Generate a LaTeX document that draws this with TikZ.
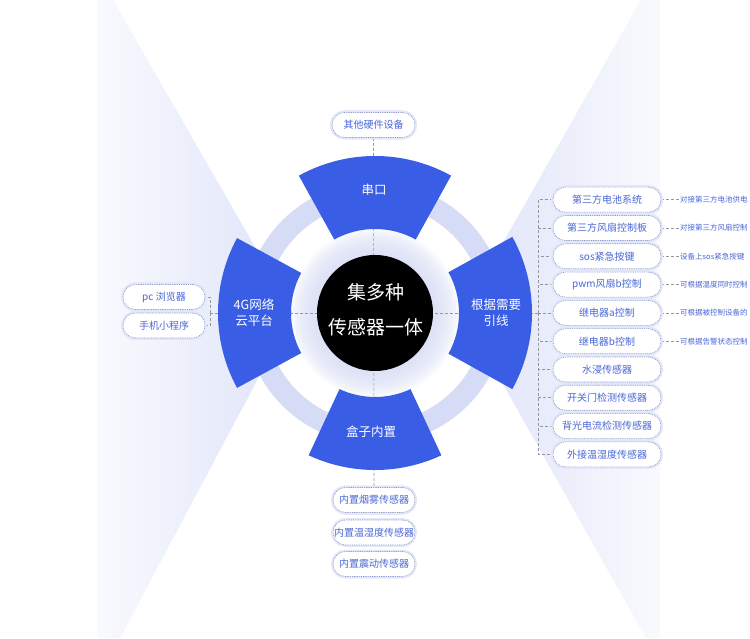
\documentclass[tikz,border=0pt]{standalone}
\usepackage{fontspec}
\setmainfont{Noto Sans CJK SC}
\usetikzlibrary{calc}
\definecolor{secblue}{RGB}{58,93,230}
\definecolor{ringc}{RGB}{214,220,245}
\definecolor{bgl}{RGB}{222,227,248}
\definecolor{bgsoft}{RGB}{249,250,254}
\definecolor{boxtxt}{RGB}{74,103,214}
\definecolor{boxline}{RGB}{140,150,200}
\definecolor{glowc}{RGB}{226,231,250}
\definecolor{haloc}{RGB}{215,221,246}
\definecolor{dashc}{RGB}{150,150,158}
\begin{document}
\begin{tikzpicture}[x=1pt,y=1pt,
  pill/.style={draw=boxline, line width=0.6pt, dash pattern=on 0.9pt off 0.9pt,
    fill=white, rounded corners=12.5pt, text=boxtxt,
    font=\fontsize{10}{12}\selectfont, minimum height=25pt, inner sep=0pt,
    preaction={draw=glowc, line width=4pt, solid}},
  desc/.style={anchor=west, text=boxtxt, font=\fontsize{7.5}{9}\selectfont, inner sep=1pt},
  conn/.style={draw=dashc, line width=0.6pt, dash pattern=on 3pt off 2pt},
  sectxt/.style={text=white, align=center, font=\fontsize{12.5}{16}\selectfont, inner sep=0pt}
]
\useasboundingbox (0,0) rectangle (750,638);
\fill[white] (0,0) rectangle (750,638);
% background wedges
\shade[left color=bgsoft, right color=bgl] (97,0) -- (120,0) -- (293,325) -- (113,638) -- (97,638) -- cycle;
\shade[left color=bgl, right color=bgsoft] (641,638) -- (463,325) -- (646,0) -- (660,0) -- (660,638) -- cycle;
% ring
\fill[ringc, even odd rule] (375,325) circle (131) (375,325) circle (110);
\coordinate (c) at (375,325);
% halo
\foreach \r in {60,63,...,84} \fill[haloc, opacity=0.16] (c) circle (\r);
% boxes (positions)
\node[pill, minimum width=83pt] (tb) at (373.5,513) {其他硬件设备};
\node[pill, minimum width=82pt] (l1) at (164,341) {pc 浏览器};
\node[pill, minimum width=82pt] (l2) at (164,312.5) {手机小程序};
\node[pill, minimum width=82pt] (b1) at (374,138) {内置烟雾传感器};
\node[pill, minimum width=82pt] (b2) at (374,105.5) {内置温湿度传感器};
\node[pill, minimum width=82pt] (b3) at (374,74) {内置震动传感器};
\foreach \t [count=\i] in {第三方电池系统, 第三方风扇控制板, sos紧急按键, pwm风扇b控制, 继电器a控制, 继电器b控制, 水浸传感器, 开关门检测传感器, 背光电流检测传感器, 外接温湿度传感器}
  \node[pill, minimum width=108pt] (r\i) at (607,{438.3-28.3*(\i-1)}) {\t};
\foreach \t [count=\i] in {对接第三方电池供电, 对接第三方风扇控制, 设备上sos紧急按键, 可根据温度同时控制, 可根据被控制设备的, 可根据告警状态控制}
  \node[desc] (d\i) at (679,{438.3-28.3*(\i-1)}) {\t};
% connectors
\coordinate (lb) at (210,325);
\coordinate (rb) at (538,325);
\draw[conn] (tb.south) -- (b1.north);
\draw[conn] (lb) -- (rb);
\draw[conn] (lb) |- (l1.east);
\draw[conn] (lb) |- (l2.east);
\foreach \i in {1,...,10} \draw[conn] (rb) |- (r\i.west);
\foreach \i in {1,...,6} \draw[conn] (r\i.east) -- (d\i.west);
% redraw boxes on top of connectors
\node[pill, minimum width=83pt] at (tb) {其他硬件设备};
\node[pill, minimum width=82pt] at (l1) {pc 浏览器};
\node[pill, minimum width=82pt] at (l2) {手机小程序};
\node[pill, minimum width=82pt] at (b1) {内置烟雾传感器};
\foreach \t [count=\i] in {第三方电池系统, 第三方风扇控制板, sos紧急按键, pwm风扇b控制, 继电器a控制, 继电器b控制, 水浸传感器, 开关门检测传感器, 背光电流检测传感器, 外接温湿度传感器}
  \node[pill, minimum width=108pt] at (r\i) {\t};
% sectors
\foreach \a/\b in {61/119, -29/29, 245/295, 151.5/208.5}
  \fill[secblue, shift={(375,325)}] (\a:84) arc[start angle=\a, end angle=\b, radius=84]
     -- (\b:157) arc[start angle=\b, end angle=\a, radius=157] -- cycle;
\node[sectxt] (s1) at (374,448) {串口};
\node[sectxt] (s2) at (496,325) {根据需要\\引线};
\node[sectxt] (s3) at (371,206) {盒子内置};
\node[sectxt] (s4) at (254,325) {4G网络\\云平台};
% center
\node[circle, fill=black, minimum size=116pt, inner sep=0pt] (ctr) at (c) {};
\node[text=white, align=center, font=\fontsize{19}{35}\selectfont, inner sep=0pt] (ctrtxt) at (375.5,328.5) {集多种\\传感器一体};
\end{tikzpicture}
\end{document}
